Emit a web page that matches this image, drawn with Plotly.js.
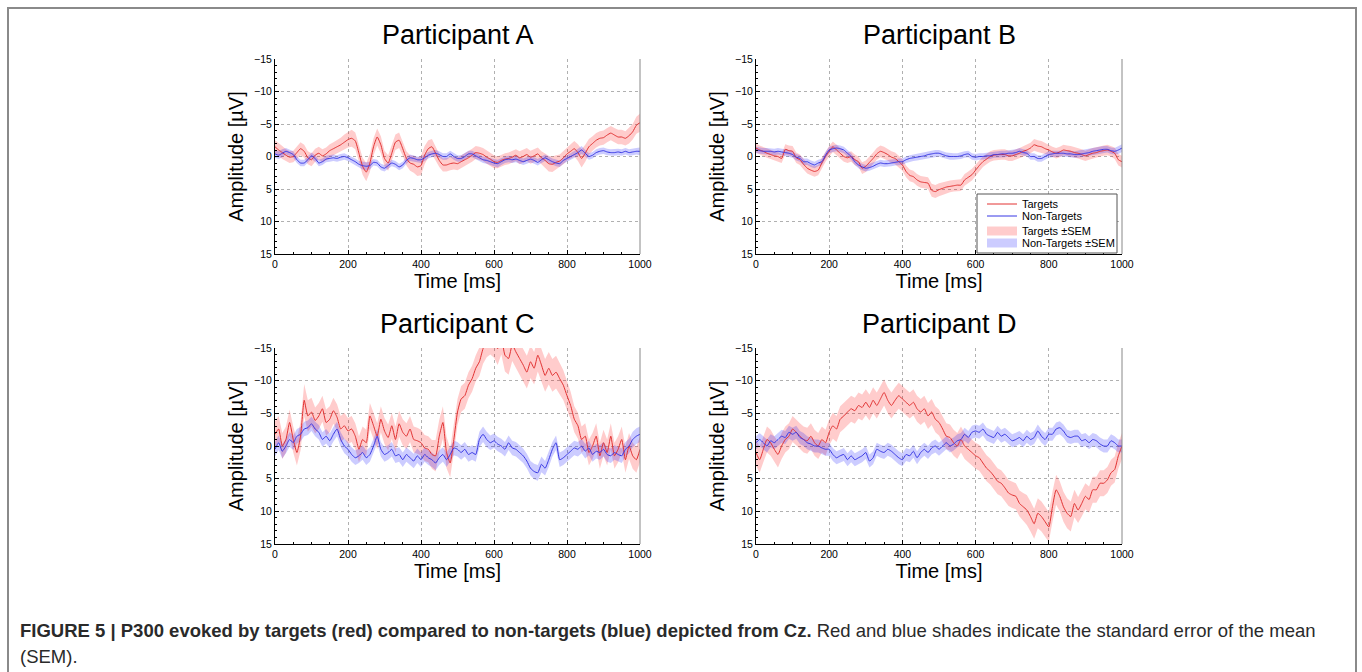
<!DOCTYPE html>
<html><head><meta charset="utf-8">
<script src="https://cdn.plot.ly/plotly-3.0.1.min.js"></script>
<style>html,body{margin:0;padding:0;background:#fff}#chart{width:1362px;height:672px}</style>
</head><body><div id="chart"></div>
<script>
// ---- data (time in ms, amplitude in µV) ----
const time = [0,10,20,30,40,50,60,70,80,90,100,110,120,130,140,150,160,170,180,190,200,210,220,230,240,250,260,270,280,290,300,310,320,330,340,350,360,370,380,390,400,410,420,430,440,450,460,470,480,490,500,510,520,530,540,550,560,570,580,590,600,610,620,630,640,650,660,670,680,690,700,710,720,730,740,750,760,770,780,790,800,810,820,830,840,850,860,870,880,890,900,910,920,930,940,950,960,970,980,990,1000];

const panelTitles = ["Participant A","Participant B","Participant C","Participant D"];
const seriesNames = ["Targets","Non-Targets","Targets \u00b1SEM","Non-Targets \u00b1SEM"];
const yTickVals = [-15,-10,-5,0,5,10,15];
const xTickVals = [0,200,400,600,800,1000];

const tgtA = [-1.5,-1.0,-0.6,-0.2,0.1,0.0,-0.6,-1.2,-0.8,0.2,
0.5,-0.2,-0.5,-0.1,-0.4,-0.9,-1.2,-1.5,-1.8,-2.2,
-2.6,-2.8,-2.4,-0.5,1.5,2.4,1.0,-1.5,-3.0,-1.8,
0.3,1.0,-0.5,-2.2,-2.5,-1.2,0.3,1.0,1.2,1.6,
1.4,-0.2,-1.2,-1.5,-0.5,0.6,1.3,1.3,1.1,1.0,
1.1,0.8,0.5,0.2,-0.2,-0.6,-0.5,-0.3,0.1,0.4,
0.8,0.9,0.6,0.4,0.3,0.1,-0.2,0.2,0.0,-0.3,
0.1,-0.1,-0.4,0.2,0.6,1.1,1.2,0.9,0.7,0.2,
-0.4,-0.8,-1.2,-0.6,0.3,-0.5,-1.5,-2.0,-2.5,-2.8,
-2.9,-3.3,-3.6,-3.3,-3.0,-3.0,-2.8,-3.2,-3.8,-4.8,
-5.2];
const semTgtA = [1.0,1.0,1.0,0.9,0.9,0.9,1.0,1.0,1.0,1.0,
1.0,1.0,1.0,1.0,1.0,1.0,1.0,1.0,1.1,1.2,
1.2,1.3,1.3,1.3,1.3,1.4,1.4,1.3,1.3,1.3,
1.2,1.2,1.2,1.2,1.2,1.1,1.1,1.2,1.3,1.4,
1.5,1.4,1.3,1.2,1.1,1.0,1.0,1.0,1.0,1.0,
1.0,1.0,1.0,1.0,1.0,1.0,1.0,1.0,1.0,1.0,
1.0,0.9,0.9,0.9,0.9,0.9,0.9,1.0,1.0,1.0,
1.0,1.0,1.0,1.0,1.1,1.2,1.2,1.1,1.0,1.0,
1.0,1.1,1.2,1.3,1.4,1.3,1.2,1.1,1.1,1.1,
1.1,1.1,1.1,1.1,1.1,1.1,1.1,1.2,1.2,1.3,
1.4];
const nonA = [-0.4,-0.2,-0.5,-0.8,-0.6,-0.3,0.5,1.0,1.0,0.5,
-0.1,0.3,1.0,0.8,0.4,0.3,0.2,0.3,0.1,0.0,
0.2,0.5,0.8,1.2,1.4,1.5,1.4,0.9,1.0,1.6,
1.8,1.4,1.0,1.2,1.6,1.3,0.6,0.2,0.3,0.5,
0.5,0.2,-0.2,-0.4,-0.5,-0.3,0.0,0.0,-0.4,0.0,
0.3,0.3,0.0,-0.4,-0.4,-0.1,0.2,0.5,0.6,0.8,
1.0,1.1,0.8,0.5,0.4,0.5,0.4,0.6,0.8,0.6,
0.4,0.6,0.9,0.5,0.2,0.5,0.8,1.0,1.1,0.6,
0.3,0.0,-0.3,-0.6,-1.0,-0.5,0.0,-0.2,-0.6,-0.8,
-0.9,-0.7,-0.6,-0.6,-0.7,-0.6,-0.8,-0.6,-0.7,-0.8,
-0.8];
const semNonA = [0.6,0.6,0.6,0.5,0.5,0.5,0.5,0.5,0.5,0.5,
0.5,0.5,0.5,0.5,0.5,0.5,0.5,0.5,0.5,0.5,
0.5,0.5,0.5,0.5,0.6,0.6,0.6,0.5,0.5,0.5,
0.5,0.5,0.5,0.5,0.5,0.5,0.5,0.5,0.5,0.5,
0.5,0.5,0.5,0.5,0.5,0.5,0.5,0.5,0.5,0.5,
0.5,0.5,0.5,0.5,0.5,0.5,0.5,0.5,0.5,0.5,
0.6,0.6,0.5,0.5,0.5,0.5,0.5,0.5,0.5,0.5,
0.5,0.5,0.5,0.5,0.5,0.5,0.5,0.5,0.5,0.5,
0.5,0.5,0.5,0.6,0.6,0.5,0.5,0.5,0.5,0.5,
0.5,0.5,0.5,0.5,0.5,0.5,0.5,0.5,0.5,0.5,
0.6];

const tgtB = [-1.3,-1.0,-0.8,-0.5,-0.3,-0.1,0.0,0.3,-1.1,-0.9,
-0.8,0.2,0.5,1.2,1.8,2.1,2.3,2.1,1.0,0.0,
-0.8,-1.5,-1.0,-0.5,0.0,0.2,0.0,0.5,0.8,1.8,
1.5,0.9,0.3,-0.4,-0.8,-0.6,-0.3,0.1,0.3,0.8,
1.3,2.3,2.9,3.1,3.6,3.9,4.0,4.1,5.2,5.4,
5.1,4.9,4.7,4.6,4.5,4.4,4.4,3.6,3.2,2.8,
2.1,1.4,0.8,0.4,0.0,-0.2,-0.3,-0.3,-0.3,-0.1,
-0.1,-0.3,-0.5,-0.8,-1.0,-1.3,-1.8,-1.6,-1.5,-1.2,
-1.0,-0.7,-0.5,-0.7,-1.0,-0.9,-0.8,-0.6,-0.5,-0.3,
-0.1,-0.3,-0.5,-0.6,-0.8,-0.9,-1.0,-0.8,-0.5,0.5,
0.8];
const semTgtB = [0.7,0.7,0.7,0.7,0.7,0.7,0.7,0.7,0.8,0.8,
0.8,0.8,0.8,0.8,0.8,0.8,0.8,0.8,0.8,0.8,
0.8,0.8,0.8,0.8,0.8,0.8,0.8,0.8,0.8,0.9,
0.9,0.9,0.9,0.9,0.9,0.9,0.9,0.9,0.9,0.9,
0.9,0.9,0.9,0.9,0.9,0.9,0.9,0.9,1.0,1.0,
1.0,1.0,0.9,0.9,0.9,0.9,0.9,0.9,0.9,0.9,
0.9,0.8,0.8,0.8,0.8,0.8,0.8,0.8,0.8,0.8,
0.8,0.8,0.8,0.8,0.8,0.8,0.9,0.9,0.9,0.8,
0.8,0.8,0.8,0.8,0.8,0.8,0.8,0.8,0.8,0.8,
0.8,0.8,0.8,0.8,0.8,0.8,0.8,0.8,0.9,0.9,
0.9];
const nonB = [-1.0,-0.9,-0.8,-0.8,-0.8,-0.7,-0.8,-0.7,-0.6,-0.5,
-0.3,0.1,0.3,0.8,0.8,1.1,1.3,1.0,0.8,-0.2,
-1.0,-1.2,-1.3,-1.2,-1.0,-0.5,0.0,0.8,1.3,1.6,
1.8,1.7,1.5,1.2,1.0,1.1,1.1,1.0,0.9,0.8,
0.8,0.5,0.3,0.2,0.1,0.0,-0.1,-0.3,-0.4,-0.5,
-0.5,-0.3,-0.1,0.0,0.0,0.0,-0.1,-0.3,-0.4,0.0,
0.1,0.0,0.0,-0.1,-0.1,-0.3,-0.3,-0.4,-0.4,-0.5,
-0.5,-0.6,-0.8,-0.6,-0.5,0.0,0.0,0.3,0.3,0.0,
-0.3,-0.4,-0.5,-0.5,-0.5,-0.4,-0.4,-0.3,-0.3,-0.4,
-0.5,-0.6,-0.8,-0.9,-1.0,-1.1,-1.1,-0.9,-0.8,-1.0,
-1.3];
const semNonB = [0.5,0.5,0.5,0.5,0.5,0.5,0.5,0.5,0.5,0.5,
0.5,0.5,0.5,0.5,0.5,0.5,0.5,0.5,0.5,0.5,
0.5,0.5,0.5,0.5,0.5,0.5,0.5,0.5,0.5,0.5,
0.5,0.5,0.5,0.5,0.5,0.5,0.5,0.5,0.5,0.5,
0.5,0.5,0.5,0.5,0.5,0.5,0.5,0.5,0.5,0.5,
0.5,0.5,0.5,0.5,0.5,0.5,0.5,0.5,0.5,0.5,
0.5,0.5,0.5,0.5,0.5,0.5,0.5,0.5,0.5,0.5,
0.5,0.5,0.5,0.5,0.5,0.5,0.5,0.5,0.5,0.5,
0.5,0.5,0.5,0.5,0.5,0.5,0.5,0.5,0.5,0.5,
0.5,0.5,0.5,0.5,0.5,0.5,0.5,0.5,0.5,0.6,
0.6];

const tgtC = [-1.8,-2.6,0.0,-1.0,-3.6,-1.0,1.0,-1.5,-7.0,-4.6,
-5.2,-3.9,-4.6,-5.7,-3.6,-4.1,-5.4,-4.4,-2.6,-3.1,
-2.3,-2.6,-1.5,0.5,-1.0,-0.5,-4.6,-3.1,-1.5,-4.1,
-2.3,-1.3,-3.1,-1.0,-3.4,-2.1,-1.5,-2.6,-1.0,-0.8,
-0.5,0.3,0.5,1.3,1.5,-1.5,-3.6,1.0,2.6,-1.0,
-5.2,-7.2,-7.7,-9.3,-10.3,-11.9,-12.9,-14.9,-16.0,-16.5,
-16.0,-14.9,-16.5,-13.9,-13.4,-15.5,-14.4,-13.4,-12.4,-11.3,
-12.9,-11.9,-13.9,-12.4,-10.8,-11.9,-10.8,-11.3,-10.3,-9.3,
-7.7,-6.2,-4.1,-3.1,-1.0,-1.5,1.0,0.0,-1.5,1.5,
-0.5,1.0,-1.5,1.5,0.5,-1.0,2.1,0.0,1.5,2.1,
0.5];
const semTgtC = [2.0,2.0,2.0,2.0,2.0,2.0,2.0,2.2,2.5,2.4,
2.2,2.0,2.0,2.0,2.0,2.0,2.0,2.0,2.0,2.0,
2.0,2.0,2.0,2.0,2.0,2.0,2.0,2.0,2.0,2.0,
2.0,2.0,2.0,2.0,2.0,2.0,2.0,2.0,2.0,2.0,
2.0,2.0,2.0,2.2,2.4,2.5,2.5,2.4,2.2,2.0,
2.0,2.0,2.0,2.0,2.0,2.0,2.2,2.3,2.4,2.5,
2.5,2.5,2.5,2.5,2.5,2.5,2.5,2.5,2.5,2.5,
2.5,2.5,2.5,2.5,2.5,2.5,2.5,2.5,2.4,2.3,
2.2,2.1,2.0,2.0,2.0,2.0,2.0,2.0,2.0,2.0,
2.0,2.0,2.0,2.0,2.0,2.0,2.0,2.0,2.0,2.0,
2.0];
const nonC = [0.5,-0.5,0.8,0.0,-1.0,-0.5,-1.5,-1.8,-2.6,-2.8,
-3.4,-2.6,-2.1,-1.0,-1.5,-0.8,-1.8,-2.6,-1.0,0.0,
0.5,1.3,1.8,1.5,1.0,1.8,1.3,0.0,-1.5,0.5,
1.3,1.0,0.5,1.5,1.3,2.1,1.3,1.8,2.3,1.5,
2.1,1.3,1.8,2.1,2.6,1.8,1.3,2.1,1.3,0.3,
0.5,1.0,0.5,1.3,1.0,1.3,-1.0,-1.8,-1.0,-0.5,
-0.8,-0.3,0.0,0.5,-0.5,0.3,0.5,1.0,1.5,2.3,
3.4,3.9,4.1,2.8,3.4,2.1,0.5,-0.5,2.1,1.8,
1.3,0.8,0.3,0.5,0.0,0.8,0.3,1.3,0.8,1.0,
0.5,1.3,1.5,1.0,1.3,1.5,0.5,0.0,-1.0,-1.5,
-1.8];
const semNonC = [1.1,1.1,1.1,1.1,1.1,1.1,1.1,1.1,1.1,1.1,
1.1,1.1,1.1,1.1,1.1,1.1,1.1,1.1,1.1,1.1,
1.1,1.1,1.1,1.1,1.1,1.1,1.1,1.1,1.1,1.1,
1.1,1.1,1.1,1.1,1.1,1.1,1.1,1.1,1.1,1.1,
1.1,1.1,1.1,1.1,1.1,1.1,1.1,1.1,1.1,1.1,
1.1,1.1,1.1,1.1,1.1,1.1,1.2,1.2,1.2,1.1,
1.1,1.1,1.1,1.1,1.1,1.1,1.1,1.1,1.1,1.1,
1.1,1.2,1.2,1.2,1.1,1.1,1.1,1.1,1.1,1.1,
1.1,1.1,1.1,1.1,1.1,1.1,1.1,1.1,1.1,1.1,
1.1,1.1,1.1,1.1,1.1,1.1,1.1,1.1,1.2,1.2,
1.2];

const tgtD = [1.0,2.1,0.5,-1.0,-0.5,0.5,1.3,0.0,-1.0,-1.5,
-2.6,-2.1,-1.5,-1.0,-0.8,-1.5,-0.5,0.0,-1.0,-0.5,
-2.1,-3.1,-2.6,-4.1,-4.6,-5.2,-5.7,-5.4,-6.2,-5.9,
-6.7,-5.9,-7.0,-6.2,-7.2,-8.2,-7.0,-6.2,-7.0,-7.7,
-7.2,-6.7,-6.2,-6.7,-5.7,-5.2,-5.7,-4.6,-5.2,-4.1,
-3.6,-2.6,-1.5,-1.3,-0.5,0.0,-1.0,0.0,0.5,1.0,
1.5,1.8,2.6,3.4,3.9,4.6,5.4,5.7,6.4,7.2,
7.5,7.7,8.8,9.3,9.8,10.8,11.9,10.3,10.8,11.6,
12.4,9.3,6.7,7.7,9.3,10.3,10.8,8.8,9.8,8.8,
7.7,8.2,6.7,6.7,5.7,5.7,5.2,4.1,3.6,1.5,
0.0];
const semTgtD = [2.0,2.0,2.0,2.0,2.0,2.0,2.0,2.0,2.0,2.0,
2.0,2.0,2.0,2.0,2.0,2.0,2.0,2.0,2.0,2.0,
2.0,2.0,2.0,2.0,2.0,2.0,2.0,2.0,2.0,2.0,
2.0,2.0,2.0,2.0,2.0,2.0,2.0,2.0,2.0,2.0,
2.0,2.0,2.0,2.0,2.0,2.0,2.0,2.0,2.0,2.0,
2.0,2.0,2.0,2.0,2.0,2.0,2.0,2.0,2.0,2.0,
2.0,2.0,2.0,2.0,2.0,2.0,2.0,2.0,2.0,2.0,
2.0,2.0,2.0,2.1,2.3,2.3,2.3,2.3,2.3,2.3,
2.3,2.3,2.3,2.3,2.3,2.3,2.3,2.1,2.0,2.0,
2.0,2.0,2.0,2.0,2.0,2.0,2.0,2.0,2.0,2.0,
2.0];
const nonD = [-0.5,-1.0,-0.5,0.0,-0.8,-0.5,-1.0,-1.5,-1.3,-2.1,
-1.8,-2.1,-1.3,-1.0,-0.5,-0.3,0.0,0.0,0.3,0.5,
0.5,1.3,1.8,1.5,1.3,2.1,1.5,2.1,1.8,1.5,
1.0,2.3,1.8,0.5,0.8,1.0,0.5,0.8,1.3,1.8,
2.1,1.3,1.5,0.8,1.8,1.0,0.5,1.0,0.3,0.0,
0.5,0.0,-0.5,0.0,-0.3,-0.8,-1.0,-1.8,-1.3,-2.1,
-2.3,-2.1,-2.6,-1.8,-1.5,-1.3,-2.1,-1.5,-1.8,-1.3,
-0.8,-1.0,-1.3,-0.8,-1.5,-1.0,-1.3,-2.3,-1.5,-1.0,
-1.8,-1.8,-2.6,-2.8,-2.3,-1.5,-1.3,-1.5,-1.5,-0.8,
-1.0,-0.5,-1.0,-0.8,-0.3,0.0,0.0,-0.8,-0.5,0.0,
0.0];
const semNonD = [1.0,1.0,1.0,1.0,1.0,1.0,1.0,1.0,1.0,1.0,
1.0,1.0,1.0,1.0,1.0,1.0,1.0,1.0,1.0,1.0,
1.0,1.0,1.0,1.0,1.0,1.0,1.0,1.0,1.0,1.0,
1.0,1.0,1.0,1.0,1.0,1.0,1.0,1.0,1.0,1.0,
1.0,1.0,1.0,1.0,1.0,1.0,1.0,1.0,1.0,1.0,
1.0,1.0,1.0,1.0,1.0,1.0,1.0,1.0,1.0,1.0,
1.0,1.0,1.0,1.0,1.0,1.0,1.0,1.0,1.0,1.0,
1.0,1.0,1.0,1.0,1.0,1.0,1.0,1.0,1.0,1.0,
1.0,1.0,1.0,1.0,1.0,1.0,1.0,1.0,1.0,1.0,
1.0,1.0,1.0,1.0,1.0,1.0,1.0,1.0,1.0,1.0,
1.0];

// ---- drawing ----
const W = 1362, H = 672;
const fx = v => v / W, fy = v => 1 - v / H;
const RED_LINE = 'rgb(226,50,50)', BLUE_LINE = 'rgb(55,55,228)';
const RED_FILL = 'rgba(255,0,0,0.2)', BLUE_FILL = 'rgba(0,0,255,0.2)';
const FONT = 'Liberation Sans, Arial, Helvetica, sans-serif';

function band(t, m, s) {
  const up = m.map((v, i) => v + s[i]);
  const lo = m.map((v, i) => v - s[i]).reverse();
  return { x: t.concat(t.slice().reverse()), y: up.concat(lo) };
}

const panels = [
  { tgt: tgtA, st: semTgtA, non: nonA, sn: semNonA, xd: [275, 640], yd: [59, 254] },
  { tgt: tgtB, st: semTgtB, non: nonB, sn: semNonB, xd: [756, 1122], yd: [59, 254] },
  { tgt: tgtC, st: semTgtC, non: nonC, sn: semNonC, xd: [275, 640], yd: [348, 544] },
  { tgt: tgtD, st: semTgtD, non: nonD, sn: semNonD, xd: [756, 1122], yd: [348, 544] }
];

const traces = [];
const layout = {
  width: W, height: H,
  margin: { l: 0, r: 0, t: 0, b: 0 },
  paper_bgcolor: '#fff', plot_bgcolor: '#fff',
  font: { family: FONT, color: '#000' },
  showlegend: false,
  shapes: [], annotations: []
};

panels.forEach((p, k) => {
  const n = k + 1;
  const xa = n === 1 ? 'x' : 'x' + n, ya = n === 1 ? 'y' : 'y' + n;
  const bt = band(time, p.tgt, p.st), bn = band(time, p.non, p.sn);
  traces.push({ type: 'scatter', x: bt.x, y: bt.y, xaxis: xa, yaxis: ya, mode: 'lines', fill: 'toself',
    fillcolor: RED_FILL, line: { width: 0, color: RED_FILL }, name: seriesNames[2], hoverinfo: 'skip' });
  traces.push({ type: 'scatter', x: bn.x, y: bn.y, xaxis: xa, yaxis: ya, mode: 'lines', fill: 'toself',
    fillcolor: BLUE_FILL, line: { width: 0, color: BLUE_FILL }, name: seriesNames[3], hoverinfo: 'skip' });
  traces.push({ type: 'scatter', x: time, y: p.tgt, xaxis: xa, yaxis: ya, mode: 'lines',
    line: { color: RED_LINE, width: 1, shape: 'spline', smoothing: 0.5 }, name: seriesNames[0] });
  traces.push({ type: 'scatter', x: time, y: p.non, xaxis: xa, yaxis: ya, mode: 'lines',
    line: { color: BLUE_LINE, width: 1, shape: 'spline', smoothing: 0.5 }, name: seriesNames[1] });

  const axCommon = {
    showline: true, linecolor: '#000', linewidth: 1, mirror: false,
    ticks: 'inside', ticklen: 4, tickcolor: '#000', tickwidth: 1,
    showgrid: true, gridcolor: '#b0b0b0', griddash: 'dot', gridwidth: 1,
    zeroline: false, fixedrange: true,
    tickfont: { family: FONT, size: 10.5, color: '#000' }
  };
  layout[n === 1 ? 'xaxis' : 'xaxis' + n] = Object.assign({}, axCommon, {
    domain: [fx(p.xd[0]), fx(p.xd[1])], anchor: ya, range: [0, 1000],
    tickmode: 'array', tickvals: xTickVals,
    minor: { ticks: 'inside', ticklen: 2, tickcolor: '#000', dtick: 50, showgrid: false },
    title: { text: 'Time [ms]', font: { family: FONT, size: 20, color: '#000' }, standoff: 5 }
  });
  layout[n === 1 ? 'yaxis' : 'yaxis' + n] = Object.assign({}, axCommon, {
    domain: [fy(p.yd[1]), fy(p.yd[0])], anchor: xa, range: [15, -15],
    tickmode: 'array', tickvals: yTickVals,
    minor: { ticks: 'inside', ticklen: 2, tickcolor: '#000', dtick: 1, showgrid: false },
    title: { text: 'Amplitude [\u00b5V]', font: { family: FONT, size: 20, color: '#000' }, standoff: 5 }
  });
  // right box edge
  layout.shapes.push({ type: 'line', xref: xa + ' domain', yref: ya + ' domain', x0: 1, x1: 1, y0: 0, y1: 1,
    line: { color: '#888', width: 1 } });
  // panel title
  layout.annotations.push({ text: panelTitles[k], xref: 'paper', yref: 'paper',
    x: fx((p.xd[0] + p.xd[1]) / 2), y: fy(p.yd[0] - 24), xanchor: 'center', yanchor: 'middle',
    showarrow: false, font: { family: FONT, size: 27, color: '#000' } });
});

// legend box inside panel B (drawn as shapes + text)
layout.shapes.push({ type: 'rect', xref: 'paper', yref: 'paper', x0: fx(977), x1: fx(1117), y0: fy(253), y1: fy(194),
  line: { color: '#555', width: 1 }, fillcolor: '#fff' });
const legY = [204, 216, 231, 243];
const legStyle = [
  { kind: 'line', color: RED_LINE },
  { kind: 'line', color: BLUE_LINE },
  { kind: 'fill', color: RED_FILL },
  { kind: 'fill', color: BLUE_FILL }
];
legStyle.forEach((s, i) => {
  if (s.kind === 'line') {
    layout.shapes.push({ type: 'line', xref: 'paper', yref: 'paper', x0: fx(987), x1: fx(1017), y0: fy(legY[i]), y1: fy(legY[i]),
      line: { color: s.color, width: 1 } });
  } else {
    layout.shapes.push({ type: 'rect', xref: 'paper', yref: 'paper', x0: fx(987), x1: fx(1017), y0: fy(legY[i] + 4.5), y1: fy(legY[i] - 4.5),
      line: { width: 0 }, fillcolor: s.color });
  }
  layout.annotations.push({ text: seriesNames[i], xref: 'paper', yref: 'paper', x: fx(1020), y: fy(legY[i]),
    xanchor: 'left', yanchor: 'middle', showarrow: false, font: { family: FONT, size: 11, color: '#000' } });
});

// figure frame
layout.shapes.push({ type: 'rect', xref: 'paper', yref: 'paper', x0: fx(8), x1: fx(1356), y0: -0.1, y1: fy(8),
  line: { color: '#8a8a8a', width: 2 }, fillcolor: 'rgba(0,0,0,0)', layer: 'below' });

// caption
layout.annotations.push({
  text: '<b>FIGURE 5 | P300 evoked by targets (red) compared to non-targets (blue) depicted from Cz.</b> Red and blue shades indicate the standard error of the mean',
  xref: 'paper', yref: 'paper', x: fx(18), y: fy(630), xanchor: 'left', yanchor: 'middle', showarrow: false,
  font: { family: FONT, size: 18.5, color: '#2a2a2a' }
});
layout.annotations.push({
  text: '(SEM).', xref: 'paper', yref: 'paper', x: fx(18), y: fy(656), xanchor: 'left', yanchor: 'middle', showarrow: false,
  font: { family: FONT, size: 18.5, color: '#2a2a2a' }
});

Plotly.newPlot('chart', traces, layout, { staticPlot: true, displayModeBar: false });
</script>
</body></html>
